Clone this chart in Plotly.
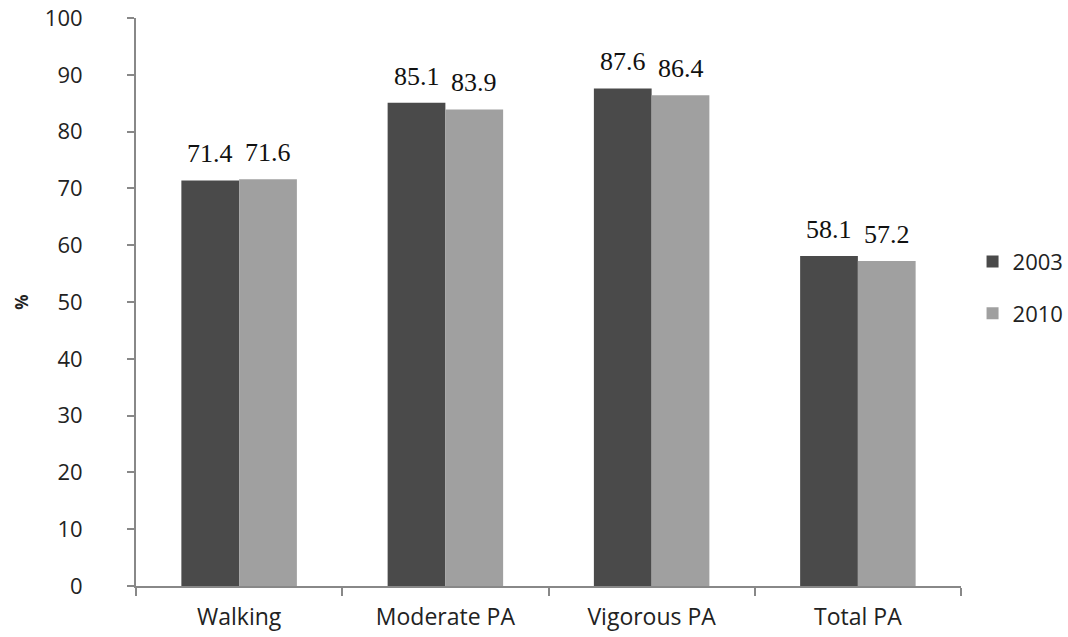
import plotly.graph_objects as go

categories = ["Walking", "Moderate PA", "Vigorous PA", "Total PA"]
series_2003 = [71.4, 85.1, 87.6, 58.1]
series_2010 = [71.6, 83.9, 86.4, 57.2]
y_ticks = [0, 10, 20, 30, 40, 50, 60, 70, 80, 90, 100]

W, H = 1068, 637
ML, MR, MT, MB = 136, 107, 18, 51
BARGAP = 0.44
cat_px = (W - ML - MR) / len(categories)
half_bar = cat_px * (1 - BARGAP) / 4

fig = go.Figure()
fig.add_trace(go.Bar(
    x=categories, y=series_2003, name="2003", legendgroup="a",
    marker=dict(color="#4a4a4a", line=dict(width=0)),
))
fig.add_trace(go.Bar(
    x=categories, y=series_2010, name="2010", legendgroup="b",
    marker=dict(color="#a0a0a0", line=dict(width=0)),
))

for vals, sign in ((series_2003, -1), (series_2010, 1)):
    for c, v in zip(categories, vals):
        fig.add_annotation(
            x=c, y=v, text=f"{v:.1f}", showarrow=False,
            xanchor="center", yanchor="bottom", yshift=10,
            xshift=sign * half_bar,
            font=dict(family="Liberation Serif", size=26, color="#111"),
        )

fig.update_layout(
    width=W, height=H,
    margin=dict(l=ML, r=MR, t=MT, b=MB, autoexpand=False),
    paper_bgcolor="white", plot_bgcolor="white",
    barmode="group", bargap=BARGAP, bargroupgap=0,
    font=dict(family="Open Sans", size=22, color="#222"),
    showlegend=True,
    legend=dict(x=1.014, y=0.525, xanchor="left", yanchor="middle",
                font=dict(size=22, color="#222"), tracegroupgap=20,
                itemwidth=30),
    xaxis=dict(
        showline=True, linecolor="#888", linewidth=2,
        ticks="outside", tickson="boundaries", ticklen=8, tickcolor="#888",
        tickwidth=1.5, showgrid=False, tickfont=dict(size=23),
        ticklabelstandoff=9,
    ),
    yaxis=dict(
        range=[0, 100], tickvals=y_ticks, showline=True, linecolor="#888",
        linewidth=2, ticks="outside", ticklen=7, tickcolor="#888", tickwidth=1.5,
        showgrid=False, zeroline=False, tickfont=dict(size=22),
        ticklabelstandoff=40,
        title=dict(text="<b>%</b>", font=dict(size=17), standoff=12),
    ),
)

fig.write_html("out.html")
